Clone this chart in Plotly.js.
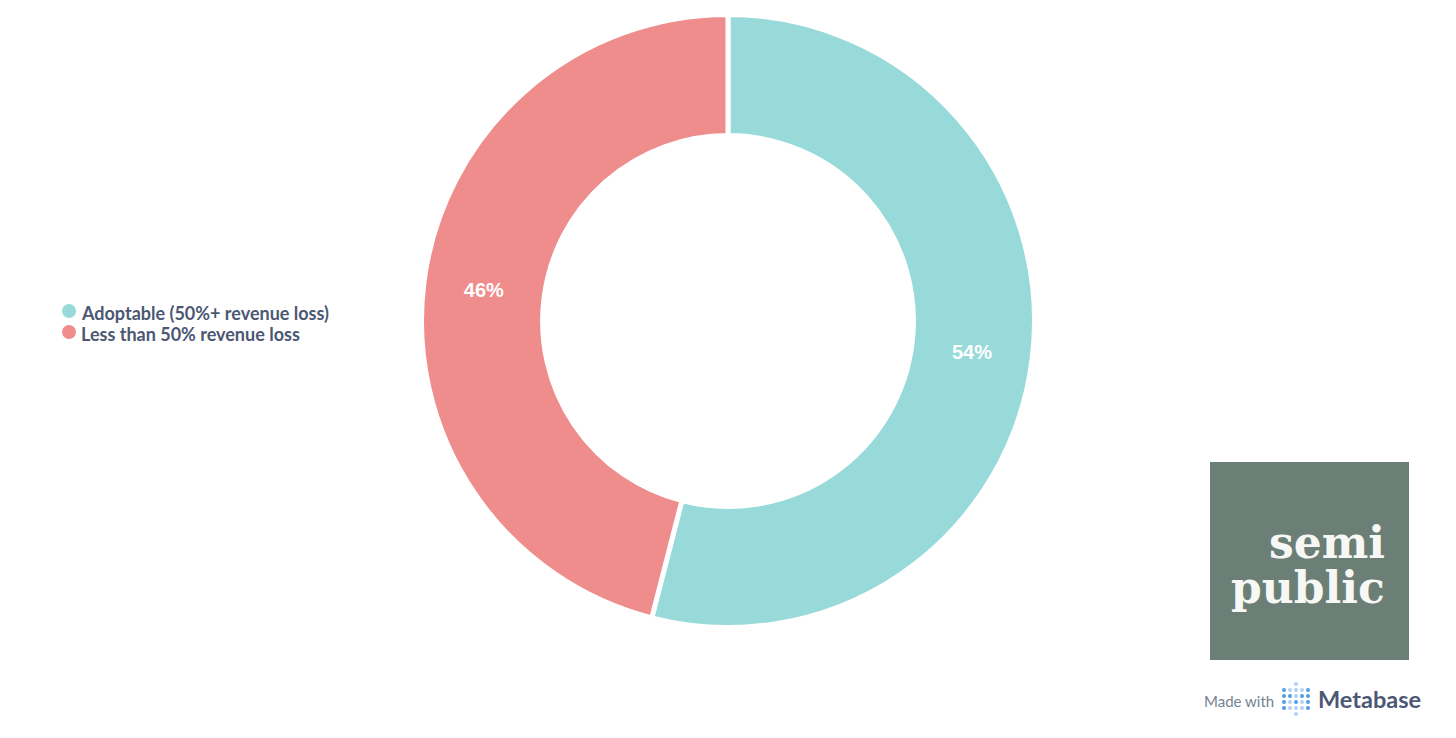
<!DOCTYPE html>
<html>
<head>
<meta charset="utf-8">
<script src="https://cdn.plot.ly/plotly-3.0.1.min.js"></script>
<style>
html,body{margin:0;padding:0;background:#fff;}
#chart{width:1456px;height:738px;}
</style>
</head>
<body>
<div id="chart"></div>
<script>
// ---- data ----
const categories = ["Adoptable (50%+ revenue loss)", "Less than 50% revenue loss"];
const values = [54, 46];
const colors = ["#98D9D9", "#EF8C8C"];
const logoLines = ["semi", "public"];
const creditText = ["Made with", "Metabase"];

const W = 1456, H = 738;
const px = x => x / W;
const py = y => 1 - y / H;

const pie = {
  type: "pie",
  values: values,
  labels: categories,
  sort: false,
  direction: "clockwise",
  rotation: 0,
  hole: 0.605,
  marker: { colors: colors, line: { color: "#ffffff", width: 5 } },
  textinfo: "percent",
  texttemplate: "%{percent:.0%}",
  textposition: "inside",
  insidetextorientation: "horizontal",
  textfont: { family: "Liberation Sans, Arial, sans-serif", size: 20, color: "#ffffff", weight: "bold" },
  hoverinfo: "label+percent",
  showlegend: false,
  domain: { x: [px(728 - 306.5), px(728 + 306.5)], y: [py(627.5), py(14.5)] }
};

const shapes = [];
const annotations = [];

// legend
categories.forEach((c, i) => {
  const cy = 311 + i * 21;
  shapes.push({ type: "circle", xref: "paper", yref: "paper",
    x0: px(62), x1: px(76), y0: py(cy + 7), y1: py(cy - 7),
    fillcolor: colors[i], line: { width: 0 } });
  annotations.push({ xref: "paper", yref: "paper", x: px(79), y: py(cy + 2),
    xanchor: "left", yanchor: "middle", showarrow: false, text: c,
    font: { family: "Lato, sans-serif", size: 18, color: "#4C5773", weight: "bold" } });
});

// logo box
shapes.push({ type: "rect", xref: "paper", yref: "paper",
  x0: px(1210), x1: px(1409), y0: py(660), y1: py(462),
  fillcolor: "#6C7F77", line: { width: 0 } });
logoLines.forEach((t, i) => {
  annotations.push({ xref: "paper", yref: "paper", x: px(1387), y: py(542 + i * 45),
    xanchor: "right", yanchor: "middle", showarrow: false, text: t,
    font: { family: "DejaVu Serif, serif", size: 44, color: "#F7F7F5", weight: "bold" } });
});

// Metabase credit
annotations.push({ xref: "paper", yref: "paper", x: px(1202), y: py(701),
  xanchor: "left", yanchor: "middle", showarrow: false, text: creditText[0],
  font: { family: "Lato, sans-serif", size: 15, color: "#74838F" } });
annotations.push({ xref: "paper", yref: "paper", x: px(1316), y: py(699),
  xanchor: "left", yanchor: "middle", showarrow: false, text: creditText[1],
  font: { family: "Lato, sans-serif", size: 23.5, color: "#4C5773", weight: "bold" } });

// Metabase dot logo
const dotPattern = [
  [1, 0, 0, 0, 1],
  [1, 1, 0, 1, 1],
  [1, 0, 1, 0, 1],
  [1, 0, 0, 0, 1]
];
const dark = "#509EE3", light = "#B4D3F2";
dotPattern.forEach((row, r) => {
  row.forEach((v, c) => {
    const cx = 1284 + c * 6, cy = 690 + r * 6;
    shapes.push({ type: "circle", xref: "paper", yref: "paper",
      x0: px(cx - 2), x1: px(cx + 2), y0: py(cy + 2), y1: py(cy - 2),
      fillcolor: v ? dark : light, line: { width: 0 } });
  });
});
[684, 714].forEach(cy => {
  shapes.push({ type: "circle", xref: "paper", yref: "paper",
    x0: px(1294), x1: px(1298), y0: py(cy + 2), y1: py(cy - 2),
    fillcolor: light, line: { width: 0 } });
});

const layout = {
  width: W, height: H,
  margin: { l: 0, r: 0, t: 0, b: 0 },
  paper_bgcolor: "#ffffff",
  showlegend: false,
  shapes: shapes,
  annotations: annotations
};

Plotly.newPlot("chart", [pie], layout, { displayModeBar: false, staticPlot: true });
</script>
</body>
</html>
